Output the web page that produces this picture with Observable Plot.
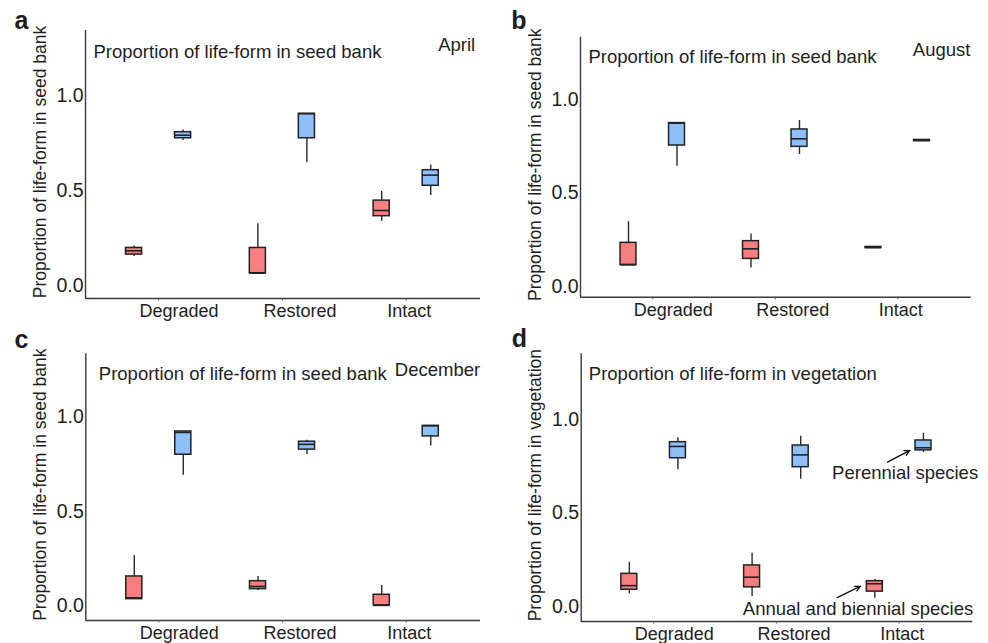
<!DOCTYPE html>
<html>
<head>
<meta charset="utf-8">
<script src="https://cdn.jsdelivr.net/npm/d3@7"></script>
<script src="https://cdn.jsdelivr.net/npm/@observablehq/plot@0.6"></script>
<style>
  body { margin: 0; background: #fff; }
  #wrap { position: relative; width: 988px; height: 643px; overflow: hidden; background: #fff; }
  .panel { position: absolute; }
</style>
</head>
<body>
<div id="wrap"></div>
<script>
// ---------- data ----------
const sites = ["Degraded", "Restored", "Intact"];
const seriesNames = ["Annual and biennial species", "Perennial species"];
const seriesColors = ["#f77f7f", "#8fbff8"];
const panelLetters = ["a", "b", "c", "d"];
const panelTitles = [
  "Proportion of life-form in seed bank",
  "Proportion of life-form in seed bank",
  "Proportion of life-form in seed bank",
  "Proportion of life-form in vegetation"
];
const monthLabels = ["April", "August", "December", ""];
const yLabels = [
  "Proportion of life-form in seed bank",
  "Proportion of life-form in seed bank",
  "Proportion of life-form in seed bank",
  "Proportion of life-form in vegetation"
];
const yTicks = [0, 0.5, 1.0];

// five-number summaries per site: [lower whisker, Q1, median, Q3, upper whisker]
const aprilAnnual = [[0.153, 0.163, 0.183, 0.198, 0.208], [0.065, 0.065, 0.065, 0.198, 0.325], [0.338, 0.365, 0.395, 0.447, 0.496]];
const aprilPerennial = [[0.763, 0.775, 0.791, 0.807, 0.818], [0.646, 0.775, 0.904, 0.904, 0.904], [0.474, 0.525, 0.581, 0.607, 0.635]];
const augustAnnual = [[0.116, 0.116, 0.116, 0.234, 0.348], [0.100, 0.148, 0.202, 0.243, 0.282], [0.206, 0.206, 0.209, 0.212, 0.212]];
const augustPerennial = [[0.644, 0.755, 0.875, 0.875, 0.875], [0.707, 0.748, 0.791, 0.841, 0.889], [0.779, 0.779, 0.782, 0.785, 0.785]];
const decemberAnnual = [[0.035, 0.037, 0.044, 0.157, 0.268], [0.083, 0.090, 0.104, 0.132, 0.157], [0.004, 0.004, 0.004, 0.060, 0.109]];
const decemberPerennial = [[0.692, 0.801, 0.919, 0.924, 0.924], [0.801, 0.828, 0.856, 0.870, 0.877], [0.847, 0.898, 0.954, 0.954, 0.954]];
const vegetationAnnual = [[0.068, 0.090, 0.112, 0.175, 0.237], [0.054, 0.103, 0.157, 0.220, 0.286], [0.045, 0.080, 0.122, 0.136, 0.145]];
const vegetationPerennial = [[0.732, 0.794, 0.857, 0.880, 0.904], [0.682, 0.746, 0.812, 0.862, 0.912], [0.825, 0.836, 0.850, 0.889, 0.928]];

// annotations of panel d (data coordinates: site index, proportion)
const annotationText = ["Perennial species", "Annual and biennial species"];
const annotationX = [1.454, 0.727];
const annotationY = [0.712, -0.012];
const arrowFromX = [1.905, 1.495];
const arrowFromY = [0.773, 0.048];
const arrowToX = [2.088, 1.686];
const arrowToY = [0.836, 0.109];

// ---------- layout ----------
const FONT = '"Liberation Sans", Arial, Helvetica, sans-serif';
const INK = "#1e1e1e";
const xDomain = [-0.59, 2.6];
const seriesOffset = [-0.198, 0.198];
const halfBox = 0.065;

const layouts = [
  {left: 0,   top: 0,   h: 320, ml: 85,   mr: 14,   mt: 30,   mb: 22,   yDom: [-0.068, 1.342],
   letter: [14, 28.3], title: [93, 57.3], month: [437.7, 50]},
  {left: 494, top: 0,   h: 320, ml: 86,   mr: 17.3, mt: 36.7, mb: 23.3, yDom: [-0.057, 1.335],
   letter: [16.7, 28.3], title: [94, 62.3], month: [418.3, 55]},
  {left: 0,   top: 320, h: 323, ml: 85.3, mr: 14,   mt: 33.3, mb: 23,   yDom: [-0.076, 1.335],
   letter: [14, 27.3], title: [98.3, 59], month: [394.3, 55]},
  {left: 494, top: 320, h: 323, ml: 86.7, mr: 15.7, mt: 33.3, mb: 22,   yDom: [-0.080, 1.353],
   letter: [17.3, 26.7], title: [94.3, 59.3], month: [0, 0]}
];

const panelData = [
  [aprilAnnual, aprilPerennial],
  [augustAnnual, augustPerennial],
  [decemberAnnual, decemberPerennial],
  [vegetationAnnual, vegetationPerennial]
];

function rowsOf(pair) {
  const rows = [];
  pair.forEach((arr, s) => arr.forEach((v, i) => rows.push({
    i, s, series: seriesNames[s], lo: v[0], q1: v[1], med: v[2], q3: v[3], hi: v[4]
  })));
  return rows;
}

// text placed by baseline in local pixel coords
function label(L, txt, x, baseline, size, extra = {}) {
  return Plot.text([txt], {
    frameAnchor: "top-left",
    text: d => d,
    dx: x - L.ml,
    dy: baseline - 0.32 * size - L.mt,
    textAnchor: "start",
    lineAnchor: "middle",
    fontSize: size,
    fill: INK,
    ...extra
  });
}

const wrap = document.getElementById("wrap");

layouts.forEach((L, p) => {
  const rows = rowsOf(panelData[p]);
  const cx = d => d.i + seriesOffset[d.s];
  const marks = [
    Plot.ruleX(rows, {x: cx, y1: "lo", y2: "hi", stroke: "#2a2a2a", strokeWidth: 1.4}),
    Plot.rect(rows, {x1: d => cx(d) - halfBox, x2: d => cx(d) + halfBox, y1: "q1", y2: "q3",
                     fill: "series", stroke: "#222", strokeWidth: 1.5}),
    Plot.ruleY(rows, {x1: d => cx(d) - halfBox, x2: d => cx(d) + halfBox, y: "med",
                      stroke: "#222", strokeWidth: 1.6}),
    Plot.ruleX([xDomain[0]], {stroke: "#3a3a3a", strokeWidth: 1.4}),
    Plot.ruleY([L.yDom[0]], {stroke: "#3a3a3a", strokeWidth: 1.4}),
    Plot.axisY({ticks: yTicks, tickSize: 0, tickPadding: 2, tickFormat: d3.format(".1f"),
                fontSize: 19.5, label: null, fill: INK}),
    Plot.axisX({ticks: [0, 1, 2], tickSize: 2.5, tickFormat: () => "", label: null, stroke: "#555"}),
    Plot.text(sites, {x: (d, i) => i, frameAnchor: "bottom", text: d => d, dx: -19, dy: 5.7,
                      textAnchor: "start", lineAnchor: "top", fontSize: 18, fill: INK}),
    Plot.text([yLabels[p]], {frameAnchor: "left", text: d => d, rotate: -90, dx: -45.5, dy: -2.5,
                             textAnchor: "middle", lineAnchor: "middle", fontSize: 17.5, fill: INK}),
    label(L, panelLetters[p], L.letter[0], L.letter[1], 25, {fontWeight: "bold"}),
    label(L, panelTitles[p], L.title[0], L.title[1], 18.5)
  ];
  if (monthLabels[p]) marks.push(label(L, monthLabels[p], L.month[0], L.month[1], 18.5));
  if (p === 3) {
    const ann = annotationText.map((t, k) => ({t, x: annotationX[k], y: annotationY[k],
      x1: arrowFromX[k], y1: arrowFromY[k], x2: arrowToX[k], y2: arrowToY[k]}));
    marks.push(
      Plot.arrow(ann, {x1: "x1", y1: "y1", x2: "x2", y2: "y2", stroke: "#111", strokeWidth: 1.3,
                       headLength: 7, headAngle: 50}),
      Plot.text(ann, {x: "x", y: "y", text: "t", textAnchor: "start", lineAnchor: "middle",
                      fontSize: 18.5, fill: INK})
    );
  }
  const chart = Plot.plot({
    width: 494,
    height: L.h,
    marginLeft: L.ml,
    marginRight: L.mr,
    marginTop: L.mt,
    marginBottom: L.mb,
    x: {type: "linear", domain: xDomain},
    y: {domain: L.yDom},
    color: {domain: seriesNames, range: seriesColors},
    style: {fontFamily: FONT, color: INK, background: "transparent", overflow: "visible"},
    marks
  });
  const div = document.createElement("div");
  div.className = "panel";
  div.style.left = L.left + "px";
  div.style.top = L.top + "px";
  div.appendChild(chart);
  wrap.appendChild(div);
});
</script>
</body>
</html>
